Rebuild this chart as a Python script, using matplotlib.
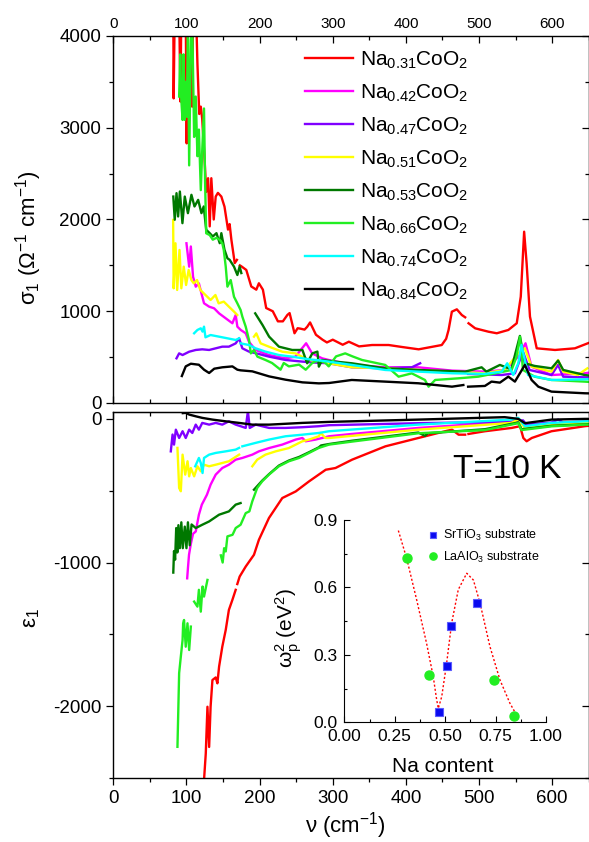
#!/usr/bin/env python3
import numpy as np
import matplotlib
matplotlib.use("Agg")
import matplotlib.pyplot as plt
from matplotlib.ticker import MultipleLocator

plt.rcParams['font.family'] = ['Liberation Sans', 'DejaVu Sans']
plt.rcParams['mathtext.default'] = 'regular'
plt.rcParams['axes.unicode_minus'] = False

# -----------------------------------------------------------
# Data: (wavenumber cm^-1, value), None = gap
# -----------------------------------------------------------
labels = ["0.31", "0.42", "0.47", "0.51", "0.53", "0.66", "0.74", "0.84"]
colors = ["#ff0000", "#ff00ff", "#8000ff", "#ffff00", "#007800", "#22ee22", "#00ffff", "#000000"]

# sigma_1 (Ohm^-1 cm^-1)
s031 = [(82, 4300), (82.5, 3320), (84, 4300), (90, 4300), (91.8, 3285), (93, 4300), (99, 4300),
        (100.3, 2830), (102, 4300), (106, 4300), (107.8, 3230), (109, 4300), (113, 4300), (115, 3700),
        (117.5, 3150), (119.6, 3230), (121.5, 3100), (124.5, 2700), (127, 2300), (129.6, 2450),
        (131.8, 1925), (134, 2450), (137.3, 2000), (140, 2250), (143, 2290), (147.7, 2250), (152, 2140),
        (156.8, 1890), (159, 1950), (161.4, 1780), (166, 1525), (169, 1560), None,
        (173, 1500), (175, 1490), (181.8, 1450), (188.6, 1270), (195.5, 1235), (199, 1305), (204.5, 1235),
        (209, 1035), (218, 1000), (225, 890), (231.8, 890), (238, 960), (241, 980), (247.7, 760),
        (252, 815), (256, 810), (261.4, 800), (265, 830), (269, 878), (277, 744), (286, 690), (292, 660),
        (300, 690), (313.6, 635), (322, 668), (336, 617), (353.7, 632), (376.4, 632), (395, 610),
        (417.4, 585), (449, 632), (455, 700), (458.3, 796), (462.8, 995), (469.6, 1021), (476.4, 959),
        (481, 934), None,
        (485.6, 869), (494.7, 814), (512.9, 777), (524.2, 760), (540, 796), (551.5, 869), (557, 1159),
        (561.6, 1867), (565, 1523), (569.6, 941), (578.8, 596), (603.8, 578), (631, 596), (650, 655)]
s042 = [(100, 1741), (103.7, 1486), (106, 1706), (109, 1377), (112.7, 1268), (117, 1304), (124, 1087),
        (131, 1050), (137.8, 1032), (144.6, 977), (153.7, 923), (162.8, 869), (167.3, 959), (169.6, 832),
        (174.2, 796), (181, 760), (185.4, 668), (194.5, 578), (212.7, 523), (235.5, 487), (249, 505),
        (258, 596), (263.6, 651), (271.8, 541), (285.4, 487), (294.5, 469), (326, 415), (371.7, 389),
        (417, 389), (463, 353), (508, 342), (535, 360), (553.6, 505), (563.5, 651), (571.7, 396),
        (599, 305), (644.5, 324), (650, 330)]
s047 = [(86.4, 487), (90, 541), (94.7, 523), (103.7, 559), (112.7, 578), (121.6, 585), (131, 578),
        (140, 596), (149, 614), (158, 614), (167.3, 650), (172, 705), (176.4, 596), (185.5, 560),
        (199, 534), (213, 505), (235.5, 469), (258.5, 451), (276.6, 440), (294.5, 433), (326, 389),
        (371.7, 378), (408, 389), (419.5, 433), None,
        (485, 317), (531, 305), (549, 324), (560, 560), (569, 360), (599, 305), (608, 415), (615, 287),
        (644.5, 280), (650, 280)]
s051 = [(81.8, 1995), (82.5, 1250), (85, 1741), (87.3, 1232), (90.5, 1668), (93, 1250), (96.3, 1486),
        (99.5, 1286), (103, 1450), (106.7, 1340), (110, 1304), (114.5, 1340), (119, 1232), (126, 1177),
        (133, 1123), (139.6, 1177), (144, 1086), (151, 1105), (158, 1050), (165, 996), (169.5, 959), None,
        (192.3, 723), (195.5, 759), (201.4, 650), (212.7, 614), (231, 559), (249, 541), (267, 469),
        (285.4, 451), (294.5, 432), (326, 389), (371.7, 378), (417, 360), (463, 342), (508, 324),
        (535, 360), (553.6, 542), (562.6, 596), (571.7, 396), (599, 342), (608, 469), (615, 342),
        (635, 305), (648, 378)]
s053 = [(82, 2250), (84, 1997), (86.4, 2287), (88.6, 2033), (91, 2305), (94.5, 1960), (97.7, 2250),
        (102, 2069), (106.8, 2269), (111, 2142), (116, 2214), (120.5, 2069), (123.6, 2142), (127, 1888),
        (131.8, 1851), (136, 1815), (141, 1851), (145.5, 1742), (147.7, 1851), (152, 1670), (156, 1577),
        (159, 1561), (165, 1486), (169.6, 1395), (172.7, 1488), (175, 1416), None,
        (194, 977), (204, 850), (213, 723), (226.4, 614), (244.5, 578), (258.5, 578), (265, 433),
        (272, 541), (279, 560), (281, 396), (285.5, 469), (303.5, 451), (326, 433), (371.7, 378),
        (417, 360), (481, 342), (503.5, 389), (510, 342), (528.5, 415), (544, 367), (555.8, 731),
        (562.6, 433), (576, 404), (599, 378), (608, 462), (615, 360), (644.5, 305), (650, 300)]
s066 = [(90, 3340), (91.5, 3800), (93, 3300), (94.7, 3085), (96, 3800), (97.7, 3086), (99, 3500),
        (100.5, 3120), (102, 4100), (103.7, 2590), (106, 3960), (108, 4100), (110.5, 2900), (112.7, 3340),
        (115, 2690), (117, 2980), (119.6, 2320), (121.6, 2760), (124, 3210), (125.5, 2400), (127, 1850),
        (131.8, 1830), (136, 1780), (141, 1800), (145.5, 1779), (149, 1740), (151, 1668), (153.7, 1486),
        (156, 1268), (160.5, 1340), (165, 1158), (169.6, 1086), (174, 1014), (176.4, 941), (181, 832),
        (185.5, 687), (188, 541), (192.3, 578), (197, 505), (208, 469), (217, 436), (228.6, 363),
        (233, 436), (240, 399), (254, 418), (263, 363), (272, 436), (281, 469), (290, 436), (294.5, 399),
        (304.5, 508), (317, 541), (327, 508), (340, 469), (371.7, 415), (390, 287), (408, 323),
        (426, 251), (431, 178), (440, 251), (471.7, 269), (499, 287), (522, 323), (544.5, 360),
        (551, 500), (556, 723), (560, 360), (576, 287), (599, 251), (644.5, 233), (650, 230)]
s074 = [(110.5, 760), (115, 796), (119.6, 814), (122, 778), (124, 832), (126, 716), (133, 741),
        (144.6, 723), (156, 705), (167.3, 687), (172, 705), None,
        (174, 650), (185.5, 632), (194.6, 596), (208, 560), (226.4, 523), (244.5, 505), (267.6, 476),
        (285.4, 461), (294.5, 451), (326, 415), (371.7, 360), (417, 342), (463, 324), (508, 317),
        (531, 342), (538.5, 433), (546.7, 305), (553.6, 433), (558, 633), (567, 305), (599, 251),
        (644.5, 258), (650, 260)]
s084 = [(93.7, 294), (99, 399), (106, 428), (117, 417), (124, 363), (131, 327), (138, 374), (149, 389),
        (162.8, 399), (169.6, 363), (174, 356), (190, 345), (213, 290), (235.5, 254), (258.5, 225),
        (281, 214), (295, 218), (326, 251), (371.7, 233), (417, 215), (463, 178), (478.5, 196), None,
        (485, 178), (508, 186), (517, 233), (528.5, 222), (540, 287), (549, 233), (562.6, 415),
        (571.8, 251), (581, 178), (599, 124), (644.5, 106), (650, 105)]

# epsilon_1
e031 = [(124, -2515), (126.4, -2330), (128.7, -2004), (131, -2284), (133, -2004), (135.5, -1818),
        (140, -1800), (142.3, -1841), (144.6, -1725), (149, -1586), (153.7, -1469), (158, -1330),
        (162.8, -1260), (167.3, -1190), None,
        (169.5, -1150), (172.7, -1098), (181, -1028), (192.3, -946), (199, -842), (212.8, -690),
        (231, -551), (249.4, -505), (267.6, -435), (290.4, -354), (303.7, -342), (326.4, -284),
        (372, -191), (417, -133), (453.6, -86), (463, -75), (472, -110), (481, -110), None,
        (485.5, -105), (508, -86), (544.6, -63), (556, -51), (560.5, -133), (565, -156), (572, -133),
        (599, -86), (644.5, -51), (650, -48)]
e042 = [(101, -1110), (102, -1040), (103.5, -946), (106, -870), (109, -800), (112.7, -784), (117, -667),
        (121, -597), (128, -528), (133, -458), (140, -388), (149, -342), (158, -319), (167.3, -284),
        (176.4, -272), (190, -249), (199, -226), (213, -203), (231, -179), (249.4, -144), (258.5, -133),
        (263, -156), (276.6, -144), (295, -121), (326, -105), (417, -63), (544, -20), (553.6, -5),
        (562.6, -45), (599, -35), (644.5, -28), (650, -27)]
e047 = [(78.6, -226), (81, -109), (83, -179), (85.5, -75), (90, -133), (94.7, -86), (99, -133),
        (103.7, -75), (108, -98), (112.7, -40), (117, -75), (121.6, -28), (131, -40), (140, -28),
        (149, -40), (158, -17), (167.3, -40), (174, -51), (181, -63), (184, 53), (186.5, -63),
        (194.6, -40), (213, -63), (235.5, -63), (258.5, -58), (281, -51), (295, -44), (417, -30),
        (550, -20), (560, -10), (565, -40), (599, -25), (608, -5), (615, -25), (650, -18)]
e051 = [(87.7, -202), (90, -481), (92.3, -504), (94.7, -249), (98.3, -388), (101.5, -295),
        (103.7, -400), (106, -342), (110.5, -400), (115, -330), (119.6, -365), (124, -319), (131, -330),
        (140, -319), (149, -307), (158, -295), (165, -272), (172, -249), None,
        (190, -330), (196.7, -284), (208, -249), (222, -226), (240, -203), (258.5, -156),
        (267.6, -144), (281, -121), (283.5, -98), (290, -133), (295, -133), (417, -75), (544, -28),
        (553.6, -5), (562.6, -63), (599, -40), (644.5, -28), (650, -27)]
e053 = [(82, -1070), (83, -920), (84.5, -980), (86, -760), (87.5, -930), (89, -740), (91, -900),
        (93, -720), (95, -900), (97.7, -750), (100, -900), (102, -720), (104.5, -880), (107, -735),
        (112.7, -760), (121.6, -737), (131, -714), (144.6, -667), (158, -644), (167.3, -597),
        (174, -586), None,
        (192.3, -493), (203.5, -430), (212.8, -385), (226.4, -325), (240, -290), (254, -265),
        (267.6, -232), (281, -198), (284, -185), (295, -175), (326.5, -152), (417, -95), (426, -118),
        (430, -100), (508, -72), (553.6, -25), (558, -72), (599, -48), (644.5, -38), (650, -37)]
e066 = [(87.7, -2283), (90, -1770), (92.3, -1655), (94.7, -1539), (95.5, -1423), (96.7, -1400),
        (99, -1586), (101.4, -1423), (103.7, -1609), (106, -1446), None,
        (110.5, -1272), (115, -1307), (117, -1190), (119.6, -1342), (122, -1167), (124, -1237),
        (128.7, -1121), None,
        (147, -950), (149.5, -1000), (151.5, -900), (153.7, -923), (156, -818), (163, -807),
        (167.3, -760), (174, -737), (181, -656), (186, -644), (190, -574), (196.7, -481),
        (203.5, -435), (212.8, -388), (226.4, -330), (240, -295), (254, -272), (267.6, -237),
        (281, -202), (295, -179), (326.5, -158), (417, -100), (508, -78), (553.6, -30), (558, -78),
        (599, -52), (644.5, -40), (650, -40)]
e074 = [(112, -330), (117, -272), (119.6, -307), (122, -377), (124, -272), (131, -249), (140, -237),
        (153.7, -226), (167.3, -214), (172, -202), None,
        (176.4, -191), (194.6, -167), (213, -144), (235.5, -121), (258.5, -110), (281, -98),
        (295, -86), (417, -40), (544, -5), (553.6, 7), (562.6, -51), (599, -28), (644.5, -17),
        (650, -16)]
e084 = [(95, 40), (99, 42), (103.7, 30), (112.7, 18), (121.6, 7), (135.5, -5), (153.7, -17),
        (172, -28), (190, -40), (213, -40), (258.5, -28), (295, -21), (417, -5), (535, 12),
        (553.6, 0), (562.6, -30), (599, -5), (644.5, 0), (650, 0)]

sigma_sets = [s031, s042, s047, s051, s053, s066, s074, s084]
eps_sets = [e031, e042, e047, e051, e053, e066, e074, e084]

# inset: plasma frequency squared vs Na content
na_sto = [0.47, 0.51, 0.53, 0.66]
wp2_sto = [0.045, 0.25, 0.43, 0.53]
na_lao = [0.31, 0.42, 0.74, 0.84]
wp2_lao = [0.73, 0.21, 0.19, 0.03]
guide_x = [0.268, 0.309, 0.359, 0.408, 0.441, 0.458, 0.466, 0.483, 0.507, 0.532, 0.565,
           0.607, 0.64, 0.673, 0.722, 0.772, 0.821, 0.863]
guide_y = [0.853, 0.73, 0.544, 0.351, 0.203, 0.10, 0.062, 0.114, 0.26, 0.44, 0.59,
           0.663, 0.633, 0.53, 0.337, 0.188, 0.085, 0.018]


def xy(points):
    x, y = [], []
    for p in points:
        if p is None:
            x.append(np.nan)
            y.append(np.nan)
        else:
            x.append(p[0])
            y.append(p[1])
    return np.array(x, float), np.array(y, float)


def style_axis(ax, bottom_out):
    ax.set_xlim(0, 650)
    ax.xaxis.set_major_locator(MultipleLocator(100))
    ax.xaxis.set_minor_locator(MultipleLocator(50))
    ax.yaxis.set_major_locator(MultipleLocator(1000))
    ax.yaxis.set_minor_locator(MultipleLocator(500))
    ax.tick_params(axis='y', which='major', direction='out', length=5, width=0.9, labelsize=13.5)
    ax.tick_params(axis='y', which='minor', direction='out', length=3, width=0.9)
    d = 'out' if bottom_out else 'in'
    ax.tick_params(axis='x', which='major', direction=d, length=5, width=0.9, labelsize=13.5)
    ax.tick_params(axis='x', which='minor', direction=d, length=3, width=0.9)
    for s in ax.spines.values():
        s.set_linewidth(1.0)
    # right side ticks point inward
    sec = ax.secondary_yaxis('right')
    sec.yaxis.set_major_locator(MultipleLocator(1000))
    sec.yaxis.set_minor_locator(MultipleLocator(500))
    sec.tick_params(which='major', direction='in', length=5, width=0.9, labelright=False)
    sec.tick_params(which='minor', direction='in', length=3, width=0.9)
    return sec


fig = plt.figure(figsize=(5.89, 8.42), dpi=100)

L, W = 113.3 / 589, 475.5 / 589
ax1 = fig.add_axes([L, 1 - 403 / 842, W, 367 / 842])
ax2 = fig.add_axes([L, 1 - 778 / 842, W, 366.3 / 842])

# ---- top panel: sigma_1
for lab, c, pts in zip(labels, colors, sigma_sets):
    x, y = xy(pts)
    ax1.plot(x, y, color=c, lw=1.7, label=f"Na$_{{{lab}}}$CoO$_2$")
ax1.set_ylim(0, 4000)
style_axis(ax1, bottom_out=False)
ax1.tick_params(axis='x', which='both', top=True, bottom=True, labeltop=True, labelbottom=False)
ax1.tick_params(axis='x', which='major', labelsize=11)
ax1.set_ylabel("σ$_1$ (Ω$^{-1}$ cm$^{-1}$)", fontsize=16)
ax1.yaxis.set_label_coords(-0.145, 0.45)

leg = ax1.legend(loc='upper left', bbox_to_anchor=(0.4034, 0.963), frameon=False, fontsize=15,
                 handlelength=2.3, handletextpad=0.35, labelspacing=0.56,
                 borderpad=0, borderaxespad=0)

# ---- bottom panel: epsilon_1
for c, pts in zip(colors, eps_sets):
    x, y = xy(pts)
    ax2.plot(x, y, color=c, lw=1.7)
ax2.set_ylim(-2500, 50)
style_axis(ax2, bottom_out=True)
top2 = ax2.secondary_xaxis('top')
top2.xaxis.set_major_locator(MultipleLocator(100))
top2.xaxis.set_minor_locator(MultipleLocator(50))
top2.tick_params(which='major', direction='in', length=5, width=0.9, labeltop=False)
top2.tick_params(which='minor', direction='in', length=3, width=0.9)
ax2.set_ylabel("ε$_1$", fontsize=16)
ax2.yaxis.set_label_coords(-0.15, 0.437)
ax2.set_xlabel("ν (cm$^{-1}$)", fontsize=16)
ax2.xaxis.set_label_coords(0.4876, -0.087)

fig.text(507 / 589, 1 - 470 / 842, "T=10 K", fontsize=24, ha='center', va='center')

# ---- inset
axi = fig.add_axes([344.3 / 589, 1 - 722.3 / 842, 201.7 / 589, 202.3 / 842])
axi.patch.set_alpha(0)
axi.plot(guide_x, guide_y, color='red', lw=1.0, ls=(0, (1.5, 1.5)))
axi.plot(na_sto, wp2_sto, ls='none', marker='s', ms=6, mfc='#0a0aef', mec='#5a5aff', mew=0.8,
         label="SrTiO$_3$ substrate")
axi.plot(na_lao, wp2_lao, ls='none', marker='o', ms=6.5, mfc='#22ee22', mec='#22ee22',
         label="LaAlO$_3$ substrate")
axi.set_xlim(0, 1)
axi.set_ylim(0, 0.9)
axi.xaxis.set_major_locator(MultipleLocator(0.25))
axi.xaxis.set_minor_locator(MultipleLocator(0.125))
axi.yaxis.set_major_locator(MultipleLocator(0.3))
axi.yaxis.set_minor_locator(MultipleLocator(0.15))
axi.xaxis.set_major_formatter(plt.FormatStrFormatter('%.2f'))
axi.yaxis.set_major_formatter(plt.FormatStrFormatter('%.1f'))
axi.spines['top'].set_visible(False)
axi.spines['right'].set_visible(False)
axi.tick_params(which='major', direction='in', length=4, width=0.8, labelsize=12.5)
axi.tick_params(axis='x', which='major', pad=5)
axi.tick_params(axis='y', which='major', pad=5)
axi.tick_params(which='minor', direction='in', length=2.5, width=0.8)
axi.set_xlabel("Na content", fontsize=15)
axi.xaxis.set_label_coords(0.489, -0.17)
axi.set_ylabel("$ω_p^2$ (eV$^2$)", fontsize=15)
axi.yaxis.set_label_coords(-0.2, 0.466)
axi.legend(loc='upper left', bbox_to_anchor=(0.41, 0.96), frameon=False, fontsize=9,
           handlelength=1.0, handletextpad=0.3, labelspacing=0.5, markerscale=0.8,
           borderpad=0, borderaxespad=0)

fig.savefig("out.png", dpi=100)
